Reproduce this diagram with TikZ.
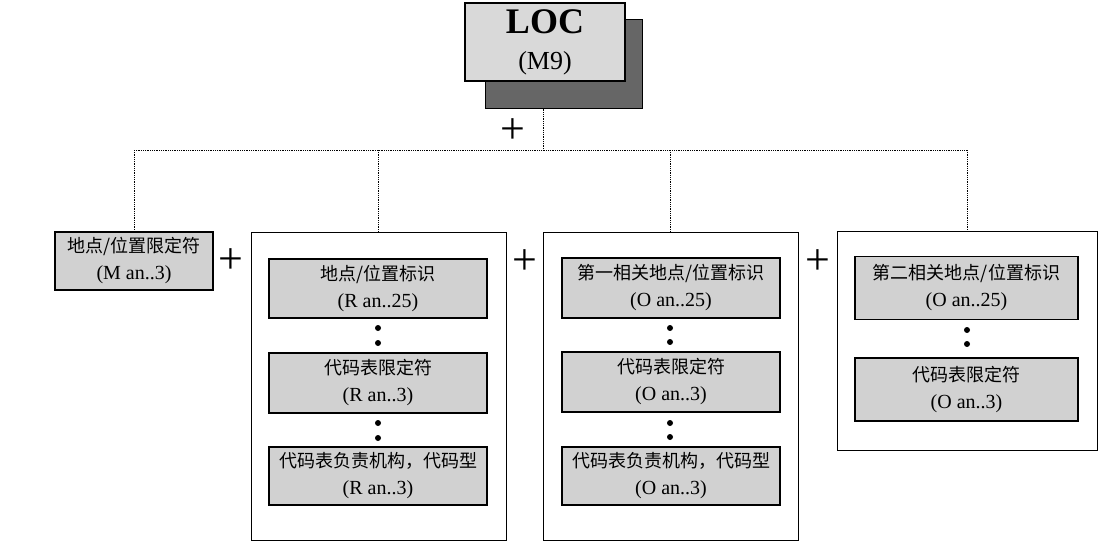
\documentclass[tikz,border=0pt]{standalone}
\usepackage{fontspec}
\setmainfont{Liberation Serif}
\newfontfamily\cjk{Noto Sans CJK SC}[Scale=0.9]

\begin{document}
\begin{tikzpicture}[x=1pt,y=-1pt,
    seg/.style={draw,line width=1.3pt,fill=black!18,align=center,inner sep=0pt,
        font=\fontsize{20}{27}\selectfont},
    grp/.style={draw,line width=1pt,inner sep=0pt},
    tree/.style={densely dotted,line width=0.8pt},
    dot/.style={circle,fill=black,inner sep=0pt,minimum size=6pt},
    plus/.style={font=\fontsize{44}{44}\selectfont,inner sep=0pt}]
    \useasboundingbox (0,0) rectangle (1114,551);

    % top segment with its shadow
    \node[draw,line width=1pt,fill=black!60,minimum width=157pt,minimum height=88pt] (locback) at (563.5,64) {};
    \node[seg,minimum width=160pt,minimum height=78pt,fill=black!15,font=\fontsize{36}{30}\selectfont] (locfront) at (545,42)
        {\textbf{LOC}\\[6pt]{\fontsize{26}{26}\selectfont (M9)}};
    \node[plus] (plus0) at (513,131) {+};

    % data elements and groups
    \node[seg,minimum width=158pt,minimum height=58pt] (locqual) at (134,261)
        {{\cjk 地点/位置限定符}\\(M an..3)};
    \node[plus] (plus1) at (231,261) {+};

    \node[grp,minimum width=255pt,minimum height=308pt] (grpid) at (378.5,386) {};
    \node[seg,minimum width=218pt,minimum height=59pt] (idname) at (378,288.5)
        {{\cjk 地点/位置标识}\\(R an..25)};
    \node[seg,minimum width=218pt,minimum height=60pt] (idlist) at (378,383)
        {{\cjk 代码表限定符}\\(R an..3)};
    \node[seg,minimum width=218pt,minimum height=58pt] (idagency) at (378,476)
        {{\cjk 代码表负责机构，代码型}\\(R an..3)};
    \node[dot] (iddot1) at (378,328) {};
    \node[dot] (iddot2) at (378,343) {};
    \node[dot] (iddot3) at (378,423) {};
    \node[dot] (iddot4) at (378,438) {};
    \node[plus] (plus2) at (525,262) {+};

    \node[grp,minimum width=255pt,minimum height=308pt] (grprela) at (670.5,386) {};
    \node[seg,minimum width=218pt,minimum height=60pt] (relaname) at (671,288)
        {{\cjk 第一相关地点/位置标识}\\(O an..25)};
    \node[seg,minimum width=218pt,minimum height=60pt] (relalist) at (671,382)
        {{\cjk 代码表限定符}\\(O an..3)};
    \node[seg,minimum width=218pt,minimum height=58pt] (relaagency) at (671,476)
        {{\cjk 代码表负责机构，代码型}\\(O an..3)};
    \node[dot] (reladot1) at (670,328) {};
    \node[dot] (reladot2) at (670,342) {};
    \node[dot] (reladot3) at (670,423) {};
    \node[dot] (reladot4) at (670,437) {};
    \node[plus] (plus3) at (818,262) {+};

    \node[grp,minimum width=260pt,minimum height=219pt] (grprelb) at (967,340.5) {};
    \node[seg,minimum width=223pt,minimum height=63pt] (relbname) at (966.5,288)
        {{\cjk 第二相关地点/位置标识}\\(O an..25)};
    \node[seg,minimum width=223pt,minimum height=63pt] (relblist) at (966.5,389.5)
        {{\cjk 代码表限定符}\\(O an..3)};
    \node[dot] (relbdot1) at (967,330) {};
    \node[dot] (relbdot2) at (967,344) {};

    % dotted tree
    \coordinate (hub) at (543,150);
    \draw[tree] (locback.south -| hub) -- (hub);
    \draw[tree] (locqual.north |- hub) -- (grprelb.north |- hub);
    \draw[tree] (locqual.north |- hub) -- (locqual.north);
    \draw[tree] (grpid.north |- hub) -- (grpid.north);
    \draw[tree] (grprela.north |- hub) -- (grprela.north);
    \draw[tree] (grprelb.north |- hub) -- (grprelb.north);
\end{tikzpicture}
\end{document}
